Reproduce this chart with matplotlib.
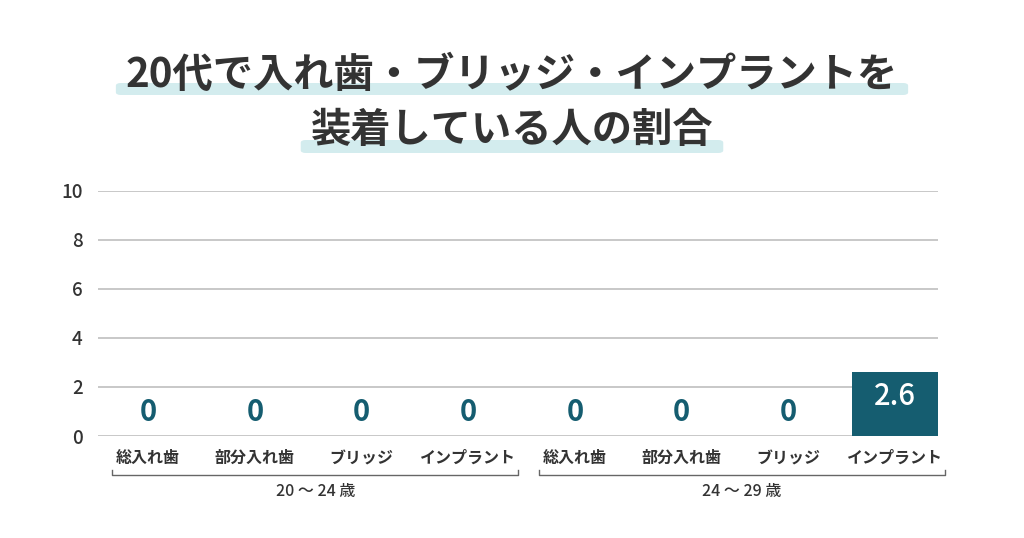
import matplotlib
matplotlib.use("Agg")
import matplotlib.pyplot as plt
import matplotlib.transforms as mtransforms
from matplotlib.patches import FancyBboxPatch

plt.rcParams['font.family'] = ['Noto Sans CJK JP', 'DejaVu Sans']

title_lines = ["20代で入れ歯・ブリッジ・インプラントを", "装着している人の割合"]
categories = ["総入れ歯", "部分入れ歯", "ブリッジ", "インプラント",
              "総入れ歯", "部分入れ歯", "ブリッジ", "インプラント"]
values = [0, 0, 0, 0, 0, 0, 0, 2.6]
value_labels = ["0", "0", "0", "0", "0", "0", "0", "2.6"]
groups = ["20 ～ 24 歳", "24 ～ 29 歳"]
group_members = [(0, 3), (4, 7)]
yticks = [0, 2, 4, 6, 8, 10]

BAR = "#155d70"
TEXT = "#333333"
GRID = "#c4c4c4"
BAND = "#d3ecee"

fig = plt.figure(figsize=(10.24, 5.38), dpi=100)
ax = fig.add_axes([98 / 1024, 1 - 436 / 538, 840 / 1024, 245 / 538])

x = list(range(len(categories)))
ax.bar(x, values, width=0.806, color=BAR, zorder=3)

ax.set_ylim(0, 10)
ax.set_xlim(-0.47, 7.403)
ax.set_yticks(yticks)
ax.set_yticklabels([str(t) for t in yticks], fontsize=13.5, color=TEXT, fontweight="medium")
ax.tick_params(axis="y", length=0, pad=11)
ax.set_xticks([])
for s in ax.spines.values():
    s.set_visible(False)
ax.grid(axis="y", color=GRID, linewidth=1.3, zorder=0)
ax.set_axisbelow(True)

for i, (v, lab) in enumerate(zip(values, value_labels)):
    if v > 0:
        ax.text(i, v - 1.0, lab, ha="center", va="center", fontsize=21,
                color="white", fontweight="medium", zorder=4)
    else:
        ax.text(i, 0.98, lab, ha="center", va="center", fontsize=21,
                color=BAR, fontweight="bold", zorder=4)

trans = mtransforms.blended_transform_factory(ax.transData, ax.transAxes)
for i, c in enumerate(categories):
    ax.text(i, -0.09, c, transform=trans, ha="center", va="center",
            fontsize=11.5, color=TEXT, fontweight="bold")

for (a, b), g in zip(group_members, groups):
    left = a - 0.337
    right = b + 0.47
    ax.plot([left, left, right, right], [-0.139, -0.159, -0.159, -0.139],
            transform=trans, color="#666666", linewidth=1.0, clip_on=False)
    ax.text((left + right) / 2, -0.228, g, transform=trans, ha="center",
            va="center", fontsize=11.5, color=TEXT, fontweight="medium")

# title with highlight bands
t1 = fig.text(0.5, 1 - 75 / 538, title_lines[0], ha="center", va="center",
              fontsize=29, fontweight="bold", color=TEXT, zorder=3)
t2 = fig.text(0.5, 1 - 131 / 538, title_lines[1], ha="center", va="center",
              fontsize=29, fontweight="bold", color=TEXT, zorder=3)
fig.canvas.draw()
r = fig.canvas.get_renderer()
for t, ytop, ybot in [(t1, 83, 95), (t2, 140, 153)]:
    bb = t.get_window_extent(r)
    x0 = (bb.x0 - 10) / 1024
    w = (bb.width + 20) / 1024
    fig.patches.append(FancyBboxPatch((x0, 1 - ybot / 538), w, (ybot - ytop) / 538,
                                      boxstyle="round,pad=0,rounding_size=0.005",
                                      transform=fig.transFigure, facecolor=BAND,
                                      edgecolor="none", zorder=1, figure=fig))

fig.savefig("out.png", dpi=100)
